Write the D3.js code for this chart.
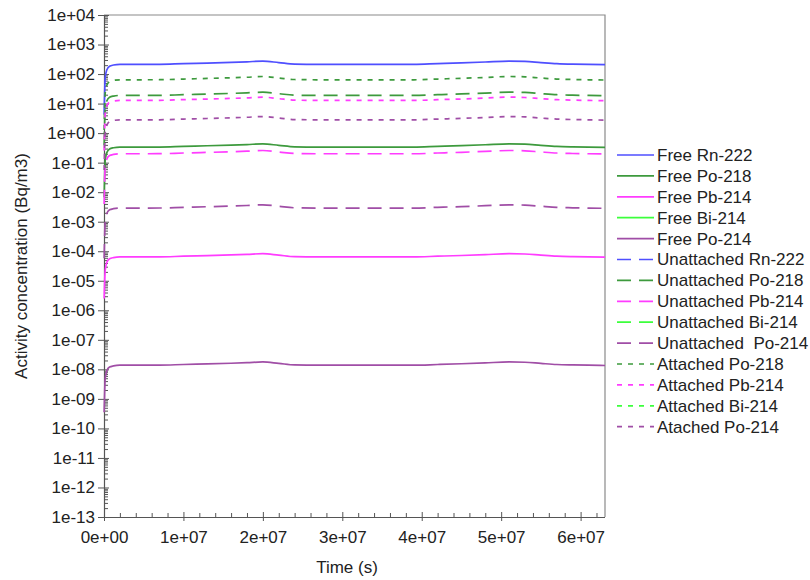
<!DOCTYPE html>
<html>
<head>
<meta charset="utf-8">
<script src="https://cdn.jsdelivr.net/npm/d3@7"></script>
<style>
  html, body { margin: 0; padding: 0; background: #fff; }
  svg { display: block; }
  text { font-family: "Liberation Sans", Arial, sans-serif; fill: #222; }
</style>
</head>
<body>
<svg id="chart" width="810" height="580"></svg>
<script>
// Time points, in units of 1e6 s
const timeE6 = [0.02, 0.15, 0.35, 0.7, 1.2, 2, 4, 7, 10, 13, 16, 18, 20, 22, 24, 27, 31, 35, 39, 42, 45, 48, 51, 53, 55, 57, 59, 61, 63.07];

// Activity concentrations (Bq/m3)
const freeRn222 = [4.3, 75, 138, 185, 202, 213, 213, 214, 226, 236, 249, 260, 275, 245, 217, 213, 213, 213, 213, 226, 239, 256, 275, 268, 245, 226, 217, 213, 209];
const freePo218 = [0.00672, 0.118, 0.218, 0.292, 0.319, 0.336, 0.336, 0.338, 0.356, 0.373, 0.393, 0.410, 0.433, 0.386, 0.343, 0.336, 0.336, 0.336, 0.336, 0.356, 0.376, 0.403, 0.433, 0.423, 0.386, 0.356, 0.343, 0.336, 0.329];
const freePb214 = [2.5e-6, 2.24e-5, 4.16e-5, 5.57e-5, 6.08e-5, 6.4e-5, 6.4e-5, 6.43e-5, 6.78e-5, 7.10e-5, 7.49e-5, 7.81e-5, 8.26e-5, 7.36e-5, 6.53e-5, 6.4e-5, 6.4e-5, 6.4e-5, 6.4e-5, 6.78e-5, 7.17e-5, 7.68e-5, 8.26e-5, 8.06e-5, 7.36e-5, 6.78e-5, 6.53e-5, 6.4e-5, 6.27e-5];
const freePo214 = [3.5e-10, 4.83e-9, 8.97e-9, 1.20e-8, 1.31e-8, 1.38e-8, 1.38e-8, 1.39e-8, 1.46e-8, 1.53e-8, 1.61e-8, 1.68e-8, 1.78e-8, 1.59e-8, 1.41e-8, 1.38e-8, 1.38e-8, 1.38e-8, 1.38e-8, 1.46e-8, 1.55e-8, 1.66e-8, 1.78e-8, 1.74e-8, 1.59e-8, 1.46e-8, 1.41e-8, 1.38e-8, 1.35e-8];
const unattPo218 = [0.378, 6.6, 12.3, 16.4, 18.0, 18.9, 18.9, 19.0, 20.0, 21.0, 22.1, 23.1, 24.4, 21.7, 19.3, 18.9, 18.9, 18.9, 18.9, 20.0, 21.2, 22.7, 24.4, 23.8, 21.7, 20.0, 19.3, 18.9, 18.5];
const unattPb214 = [0.004, 0.07, 0.13, 0.174, 0.19, 0.2, 0.2, 0.201, 0.212, 0.222, 0.234, 0.244, 0.258, 0.23, 0.204, 0.2, 0.2, 0.2, 0.2, 0.212, 0.224, 0.24, 0.258, 0.252, 0.23, 0.212, 0.204, 0.2, 0.196];
const unattPo214 = [5.8e-5, 1.02e-3, 1.89e-3, 2.52e-3, 2.76e-3, 2.9e-3, 2.9e-3, 2.91e-3, 3.07e-3, 3.22e-3, 3.39e-3, 3.54e-3, 3.74e-3, 3.34e-3, 2.96e-3, 2.9e-3, 2.9e-3, 2.9e-3, 2.9e-3, 3.07e-3, 3.25e-3, 3.48e-3, 3.74e-3, 3.65e-3, 3.34e-3, 3.07e-3, 2.96e-3, 2.9e-3, 2.84e-3];
const attPo218 = [1.28, 22.4, 41.6, 55.7, 60.8, 64, 64, 64.3, 67.8, 71.0, 74.9, 78.1, 82.6, 73.6, 65.3, 64, 64, 64, 64, 67.8, 71.7, 76.8, 82.6, 80.6, 73.6, 67.8, 65.3, 64, 62.7];
const attPb214 = [0.256, 4.48, 8.32, 11.1, 12.2, 12.8, 12.8, 12.9, 13.6, 14.2, 15.0, 15.6, 16.5, 14.7, 13.1, 12.8, 12.8, 12.8, 12.8, 13.6, 14.3, 15.4, 16.5, 16.1, 14.7, 13.6, 13.1, 12.8, 12.5];
const attPo214 = [0.0564, 0.987, 1.83, 2.45, 2.68, 2.82, 2.82, 2.83, 2.99, 3.13, 3.30, 3.44, 3.64, 3.24, 2.88, 2.82, 2.82, 2.82, 2.82, 2.99, 3.16, 3.38, 3.64, 3.55, 3.24, 2.99, 2.88, 2.82, 2.76];

// Series in legend order (Bi-214 curves coincide with Po-214 and are listed only)
const seriesNames = ["Free Rn-222", "Free Po-218", "Free Pb-214", "Free Bi-214", "Free Po-214",
  "Unattached Rn-222", "Unattached Po-218", "Unattached Pb-214", "Unattached Bi-214", "Unattached  Po-214",
  "Attached Po-218", "Attached Pb-214", "Attached Bi-214", "Atached Po-214"];
const seriesValues = [freeRn222, freePo218, freePb214, null, freePo214,
  null, unattPo218, unattPb214, null, unattPo214,
  attPo218, attPb214, null, attPo214];
const seriesColors = ["#4f4fff", "#3d9a3d", "#ff3cff", "#3cff3c", "#a04ea6",
  "#4f4fff", "#3d9a3d", "#ff3cff", "#3cff3c", "#a04ea6",
  "#3d9a3d", "#ff3cff", "#3cff3c", "#a04ea6"];
const seriesStyles = ["solid", "solid", "solid", "solid", "solid",
  "dash", "dash", "dash", "dash", "dash",
  "dot", "dot", "dot", "dot"];

const xTicks = [0, 1e7, 2e7, 3e7, 4e7, 5e7, 6e7];
const xTickLabels = ["0e+00", "1e+07", "2e+07", "3e+07", "4e+07", "5e+07", "6e+07"];
const yExponents = d3.range(-13, 5);
const yTickLabels = ["1e-13", "1e-12", "1e-11", "1e-10", "1e-09", "1e-08", "1e-07", "1e-06", "1e-05", "1e-04", "1e-03", "1e-02", "1e-01", "1e+00", "1e+01", "1e+02", "1e+03", "1e+04"];

const dashArrays = { solid: null, dash: "14,8", dot: "5,6" };
const fontSize = "17px";

const svg = d3.select("#chart");
const plotL = 104, plotR = 605, plotT = 15, plotB = 517;

const x = d3.scaleLinear().domain([0, 6.3072e7]).range([plotL, plotR]);
const y = d3.scaleLog().domain([1e-13, 1e4]).range([plotB, plotT]);

// Frame (top and right edges)
svg.append("path")
  .attr("d", `M${plotL},${plotT}H${plotR}V${plotB}`)
  .attr("fill", "none").attr("stroke", "#8a8a8a").attr("stroke-width", 1.2);

// Y axis: major ticks crossing the axis, minor ticks inside
const yMajor = yExponents.map(e => Math.pow(10, e));
const yMinor = [];
yExponents.slice(0, -1).forEach(e => { for (let k = 2; k <= 9; k++) yMinor.push(k * Math.pow(10, e)); });

const yAxisOut = svg.append("g").attr("transform", `translate(${plotL},0)`)
  .call(d3.axisLeft(y).tickValues(yMajor).tickSize(6).tickPadding(3)
    .tickFormat((d, i) => yTickLabels[i]));
const yAxisIn = svg.append("g").attr("transform", `translate(${plotL},0)`)
  .call(d3.axisRight(y).tickValues(yMajor).tickSize(5).tickFormat(""));
const yAxisMinor = svg.append("g").attr("transform", `translate(${plotL},0)`)
  .call(d3.axisRight(y).tickValues(yMinor).tickSize(4).tickFormat(""));

// X axis
const xMinor = d3.range(0, 6.31e7, 2e6).filter(v => v % 1e7 !== 0);
const xAxisOut = svg.append("g").attr("transform", `translate(0,${plotB})`)
  .call(d3.axisBottom(x).tickValues(xTicks).tickSize(4).tickPadding(10)
    .tickFormat((d, i) => xTickLabels[i]));
const xAxisIn = svg.append("g").attr("transform", `translate(0,${plotB})`)
  .call(d3.axisTop(x).tickValues(xTicks).tickSize(5).tickFormat(""));
const xAxisMinor = svg.append("g").attr("transform", `translate(0,${plotB})`)
  .call(d3.axisTop(x).tickValues(xMinor).tickSize(4).tickFormat(""));

[yAxisOut, yAxisIn, yAxisMinor, xAxisOut, xAxisIn, xAxisMinor].forEach(g => {
  g.selectAll(".tick line").attr("stroke", "#555").attr("stroke-width", 1);
  g.select(".domain").attr("stroke", "#555").attr("stroke-width", 1.2);
  g.selectAll("text").style("font-size", fontSize).attr("fill", "#222")
    .style("font-family", "'Liberation Sans', Arial, sans-serif");
});
[yAxisIn, yAxisMinor, xAxisIn, xAxisMinor].forEach(g => g.select(".domain").remove());
yAxisOut.select(".domain").attr("d", `M0.5,${plotT}V${plotB}`);
xAxisOut.select(".domain").attr("d", `M${plotL},0.5H${plotR}`);

// Curves
const line = d3.line()
  .x((d, i) => x(timeE6[i] * 1e6))
  .y(d => y(d))
  .curve(d3.curveMonotoneX);

const curves = svg.append("g");
seriesValues.forEach((vals, i) => {
  if (!vals) return;
  curves.append("path")
    .attr("d", line(vals))
    .attr("fill", "none")
    .attr("stroke", seriesColors[i])
    .attr("stroke-width", 1.7)
    .attr("stroke-dasharray", dashArrays[seriesStyles[i]]);
});

// Legend
const legend = svg.append("g").attr("transform", "translate(617,155)");
seriesNames.forEach((name, i) => {
  const row = legend.append("g").attr("transform", `translate(0,${i * 20.9})`);
  row.append("line").attr("x1", 0).attr("x2", 37).attr("y1", 0).attr("y2", 0)
    .attr("stroke", seriesColors[i]).attr("stroke-width", 1.7)
    .attr("stroke-dasharray", dashArrays[seriesStyles[i]]);
  row.append("text").attr("x", 40).attr("y", 0).attr("dy", "0.35em")
    .style("font-size", fontSize).style("white-space", "pre").text(name);
});

// Axis titles
svg.append("text").attr("x", 347).attr("y", 573).attr("text-anchor", "middle")
  .style("font-size", fontSize).text("Time (s)");
svg.append("text").attr("transform", "translate(27,266) rotate(-90)")
  .attr("text-anchor", "middle").style("font-size", fontSize)
  .text("Activity concentration (Bq/m3)");
</script>
</body>
</html>
